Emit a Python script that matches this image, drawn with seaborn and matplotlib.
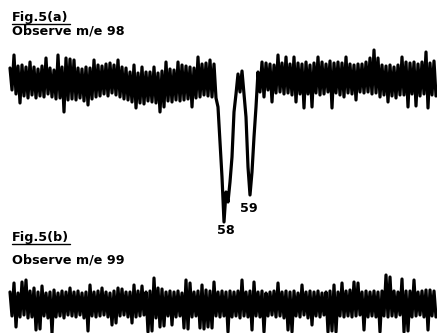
import numpy as np
import seaborn as sns
import matplotlib
matplotlib.use("Agg")
import matplotlib.pyplot as plt
from matplotlib.lines import Line2D

# trace (a): observe m/e 98, signal (up = positive)
trace_a = [
    14, -8, 27, -12, 16, -21, 17, -14, 15, -16,
    20, -13, 15, -16, 13, -14, 16, -15, 24, -12,
    14, -15, 12, -17, 27, -16, 15, -30, 24, -18,
    23, -17, 22, -18, 14, -16, 13, -19, 15, -23,
    14, -17, 22, -15, 17, -14, 16, -12, 18, -14,
    19, -11, 17, -13, 22, -15, 15, -17, 14, -18,
    10, -20, 17, -26, 9, -21, 15, -22, 10, -19,
    10, -20, 15, -21, 9, -30, 11, -25, 20, -19,
    13, -20, 12, -18, 20, -19, 17, -18, 16, -17,
    15, -25, 14, -16, 25, -15, 18, -13, 19, -14,
    22, -15, 18, -16,
    # dips (58, 59)
    -25, -60, -95, -140, -110, -120, -100, -75, -30, -12, 8,
    -10, 11, -12, -35, -85, -113, -90, -55, -25, 10, -10,
    20, -15, 19, -8, 18, -20, 17, -11, 27, -10,
    19, -12, 25, -11, 18, -13, 25, -20, 19, -12,
    18, -26, 20, -12, 17, -25, 19, -11, 25, -13,
    20, -12, 18, -10, 21, -26, 19, -11, 20, -13,
    19, -15, 25, -11, 18, -12, 17, -18, 18, -10,
    18, -11, 20, -10, 24, -12, 32, -11, 24, -15,
    17, -13, 16, -20, 17, -14, 15, -16, 17, -13,
    25, -13, 20, -25, 19, -12, 20, -24, 18, -14,
    20, -12, 30, -26, 19, -13, 21, -14,
]

# trace (b): observe m/e 99
trace_b = [
    11, -13, 20, -24, 10, -14, 21, -12, 23, -15,
    12, -14, 15, -27, 11, -26, 17, -13, 10, -15,
    11, -30, 13, -14, 10, -13, 12, -15, 11, -12,
    15, -13, 11, -14, 12, -12, 10, -15, 11, -28,
    18, -13, 11, -14, 12, -13, 15, -12, 11, -14,
    10, -22, 12, -20, 15, -13, 14, -12, 11, -14,
    11, -20, 18, -14, 12, -13, 17, -12, 11, -29,
    12, -28, 25, -15, 15, -24, 14, -23, 11, -13,
    12, -22, 11, -14, 12, -13, 10, -25, 23, -26,
    20, -14, 11, -13, 12, -25, 18, -26, 13, -24,
    12, -25, 21, -13, 11, -14, 12, -13, 11, -29,
    12, -14, 11, -13, 12, -15, 23, -13, 11, -14,
    12, -27, 21, -13, 11, -14, 12, -29, 10, -13,
    11, -12, 12, -14, 20, -13, 11, -15, 12, -27,
    11, -29, 12, -13, 10, -14, 18, -12, 11, -15,
    12, -22, 11, -13, 12, -14, 10, -12, 11, -29,
    12, -28, 18, -29, 11, -13, 20, -14, 12, -13,
    13, -14, 21, -13, 20, -12, 11, -27, 12, -14,
    11, -13, 12, -14, 11, -29, 12, -13, 28, -14,
    26, -13, 12, -14, 11, -12, 24, -29, 12, -28,
    12, -14, 23, -13, 11, -12, 12, -14, 13, -27,
    13, -13, 12, -14,
]

titles = ["Fig.5(a)", "Fig.5(b)"]
subtitles = ["Observe m/e 98", "Observe m/e 99"]
peak_labels = ["58", "59"]

sns.set_style("white")
plt.rcParams["font.family"] = ["DejaVu Sans"]

W, H = 437, 333
fig = plt.figure(figsize=(W / 100, H / 100), dpi=100)

def px(x, y):
    return x / W, 1 - y / H

# top trace
ax1 = fig.add_axes([0, (H - 235) / H, 1, 190 / H])
sns.lineplot(x=np.arange(len(trace_a)), y=trace_a, ax=ax1, color="black", linewidth=2.3)
ax1.set_xlim(-5, 213.5)
ax1.set_ylim(-153, 37)
ax1.axis("off")

# bottom trace
ax2 = fig.add_axes([0, 0, 1, 63 / H])
sns.lineplot(x=np.arange(len(trace_b)), y=trace_b, ax=ax2, color="black", linewidth=2.3)
ax2.set_xlim(-5, 213.5)
ax2.set_ylim(-30, 33)
ax2.axis("off")

fs = 9.2
for t, s, yt, ys in zip(titles, subtitles, [17.5, 238], [31, 260]):
    fig.text(*px(12, yt), t, fontsize=fs, fontweight="bold", color="black",
             va="center", ha="left")
    fig.text(*px(12, ys), s, fontsize=fs, fontweight="bold", color="black",
             va="center", ha="left")
    fig.add_artist(Line2D([12 / W, 70 / W], [1 - (yt + 6) / H] * 2,
                          color="black", linewidth=1.0, transform=fig.transFigure))

fig.text(*px(226, 231), peak_labels[0], fontsize=fs, fontweight="bold", color="black",
         ha="center", va="center")
fig.text(*px(249, 208), peak_labels[1], fontsize=fs, fontweight="bold", color="black",
         ha="center", va="center")

fig.savefig("out.png", dpi=100, facecolor="white")
